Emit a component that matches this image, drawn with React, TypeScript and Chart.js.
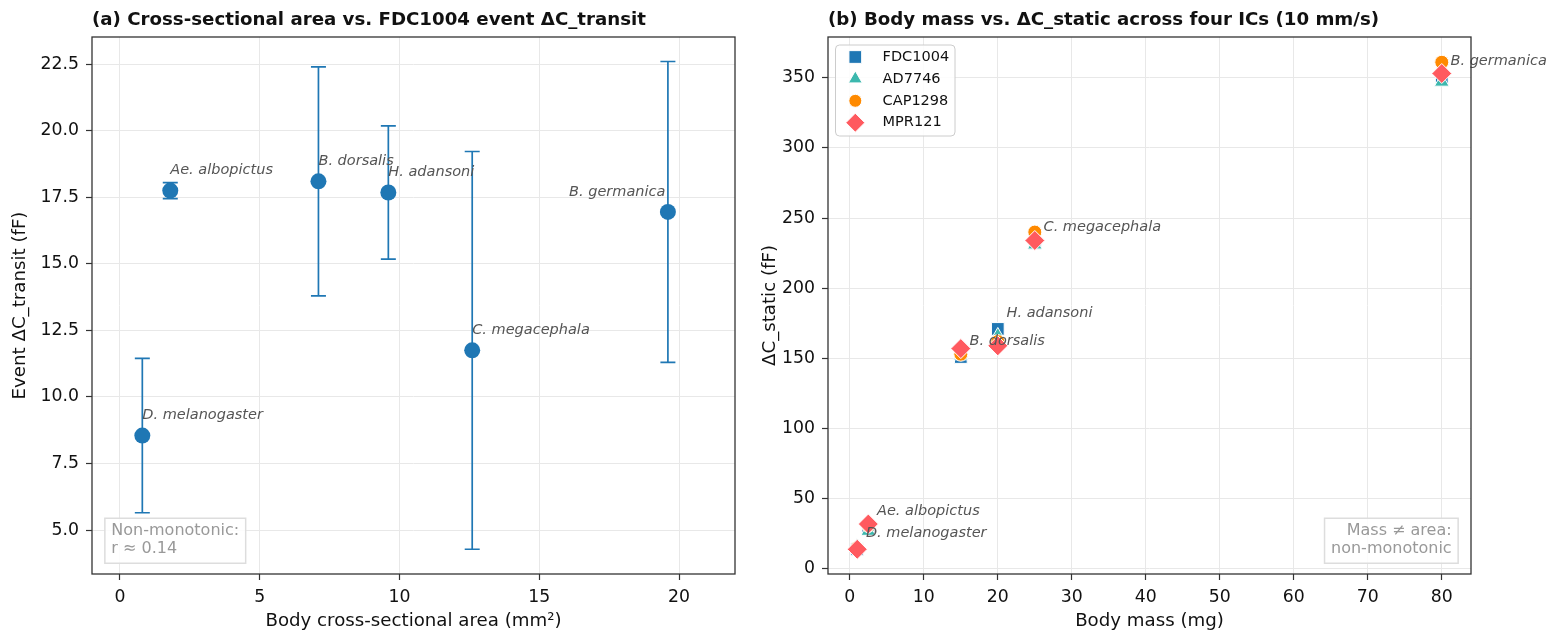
import { useEffect, useRef } from "react"
import { Chart, registerables } from "chart.js"
import { drawPoint } from "chart.js/helpers"

Chart.register(...registerables)

const species = [
  "D. melanogaster",
  "Ae. albopictus",
  "B. dorsalis",
  "H. adansoni",
  "C. megacephala",
  "B. germanica",
]

// panel (a): cross-sectional area vs FDC1004 transit signal
const crossArea = [0.8, 1.8, 7.1, 9.6, 12.6, 19.6]
const transitMean = [8.55, 17.75, 18.1, 17.68, 11.75, 16.95]
const transitSd = [2.9, 0.3, 4.3, 2.5, 7.47, 5.65]
const areaTicks = [0, 5, 10, 15, 20]
const transitTicks = [5, 7.5, 10, 12.5, 15, 17.5, 20, 22.5]

// panel (b): body mass vs static signal, four ICs
const bodyMass = [1, 2.5, 15, 20, 25, 80]
const fdc1004 = [14, 30, 151, 171, 232, 350]
const ad7746 = [16, 27, 152, 166, 231, 347]
const cap1298 = [15, 31, 153, 162, 240, 361]
const mpr121 = [14, 32, 157, 159, 234, 353]
const massTicks = [0, 10, 20, 30, 40, 50, 60, 70, 80]
const staticTicks = [0, 50, 100, 150, 200, 250, 300, 350]

const FONT = "'DejaVu Sans', sans-serif"
const AXIS = "#333333"
const GRID = "#e8e8e8"
const BLUE = "#1f77b4"
const TICK_SIZE = 17.3
const LABEL_SIZE = 18.2

const icSeries = [
  { name: "FDC1004", values: fdc1004, color: "#1f77b4", style: "rect", radius: 9, legendRadius: 9 },
  { name: "AD7746", values: ad7746, color: "#3cb8ae", style: "triangle", radius: 8.5, legendRadius: 8 },
  { name: "CAP1298", values: cap1298, color: "#ff8a00", style: "circle", radius: 7, legendRadius: 6.5 },
  { name: "MPR121", values: mpr121, color: "#ff5a5f", style: "rectRot", radius: 10, legendRadius: 9.5 },
]

function gridOpts() {
  return { color: GRID, lineWidth: 1, drawTicks: true, tickLength: 6, tickColor: AXIS, tickWidth: 1.2 }
}

function setTicks(values: number[]) {
  return (scale: any) => {
    scale.ticks = values.map((v) => ({ value: v }))
  }
}

function drawFrame(chart: any, title: string) {
  const { ctx, chartArea: a } = chart
  ctx.save()
  ctx.strokeStyle = AXIS
  ctx.lineWidth = 1.3
  ctx.strokeRect(a.left, a.top, a.right - a.left, a.bottom - a.top)
  ctx.fillStyle = "#111"
  ctx.font = `bold 18.2px ${FONT}`
  ctx.textBaseline = "middle"
  ctx.textAlign = "left"
  ctx.fillText(title, a.left, 20)
  ctx.restore()
}

function drawNote(chart: any, lines: string[], align: "left" | "right") {
  const { ctx, chartArea: a } = chart
  const w = a.right - a.left
  const h = a.bottom - a.top
  ctx.save()
  ctx.font = `16px ${FONT}`
  const textW = Math.max(...lines.map((l) => ctx.measureText(l).width))
  const pad = 6.5
  const boxW = textW + pad * 2
  const boxH = 45
  const bottom = a.bottom - 0.02 * h
  const left = align === "left" ? a.left + 0.02 * w : a.right - 0.02 * w - boxW
  ctx.fillStyle = "rgba(255,255,255,0.85)"
  ctx.strokeStyle = "#dddddd"
  ctx.lineWidth = 1.5
  ctx.fillRect(left, bottom - boxH, boxW, boxH)
  ctx.strokeRect(left, bottom - boxH, boxW, boxH)
  ctx.fillStyle = "#999999"
  ctx.textBaseline = "middle"
  ctx.textAlign = align
  const tx = align === "left" ? left + pad : left + boxW - pad
  lines.forEach((l, i) => ctx.fillText(l, tx, bottom - boxH + 12.7 + i * 18))
  ctx.restore()
}

function scaleText(text: string, pad: { top: number; bottom: number }) {
  return { display: true, text, color: "#111", font: { family: FONT, size: LABEL_SIZE }, padding: pad }
}

function AreaPanel() {
  const ref = useRef<HTMLCanvasElement>(null)

  useEffect(() => {
    if (!ref.current) return

    const annotate = {
      id: "annotate",
      beforeDatasetsDraw(chart: any) {
        const { ctx, scales } = chart
        ctx.save()
        ctx.strokeStyle = BLUE
        ctx.lineWidth = 1.7
        crossArea.forEach((a, i) => {
          const px = scales.x.getPixelForValue(a)
          const top = scales.y.getPixelForValue(transitMean[i] + transitSd[i])
          const bot = scales.y.getPixelForValue(transitMean[i] - transitSd[i])
          ctx.beginPath()
          ctx.moveTo(px, top)
          ctx.lineTo(px, bot)
          ctx.moveTo(px - 7.5, top)
          ctx.lineTo(px + 7.5, top)
          ctx.moveTo(px - 7.5, bot)
          ctx.lineTo(px + 7.5, bot)
          ctx.stroke()
        })
        ctx.restore()
      },
      afterDatasetsDraw(chart: any) {
        const { ctx, scales } = chart
        ctx.save()
        ctx.font = `italic 14.5px ${FONT}`
        ctx.fillStyle = "#555555"
        ctx.textBaseline = "middle"
        species.forEach((name, i) => {
          const px = scales.x.getPixelForValue(crossArea[i])
          const py = scales.y.getPixelForValue(transitMean[i])
          const right = name === "B. germanica"
          ctx.textAlign = right ? "right" : "left"
          ctx.fillText(name, right ? px - 2.5 : px, py - 20)
        })
        ctx.restore()
        drawNote(chart, ["Non-monotonic:", "r ≈ 0.14"], "left")
        drawFrame(chart, "(a) Cross-sectional area vs. FDC1004 event ΔC_transit")
      },
    }

    const chart = new Chart(ref.current, {
      type: "scatter",
      data: {
        datasets: [
          {
            data: crossArea.map((x, i) => ({ x, y: transitMean[i] })),
            backgroundColor: BLUE,
            borderColor: BLUE,
            borderWidth: 0,
            pointRadius: 8,
            pointHoverRadius: 8,
          },
        ],
      },
      options: {
        animation: false,
        responsive: false,
        events: [],
        layout: { padding: { top: 37, right: 15, left: 0, bottom: 0 } },
        plugins: { legend: { display: false }, tooltip: { enabled: false } },
        scales: {
          x: {
            type: "linear",
            min: -1,
            max: 22,
            afterBuildTicks: setTicks(areaTicks),
            afterFit: (s: any) => {
              s.height = 66
            },
            grid: gridOpts(),
            border: { display: false },
            ticks: { color: "#111", font: { family: FONT, size: TICK_SIZE }, padding: 7 },
            title: scaleText("Body cross-sectional area (mm²)", { top: 0, bottom: 8 }),
          },
          y: {
            type: "linear",
            min: 3.35,
            max: 23.52,
            afterBuildTicks: setTicks(transitTicks),
            afterFit: (s: any) => {
              s.width = 92
            },
            grid: gridOpts(),
            border: { display: false },
            ticks: {
              color: "#111",
              font: { family: FONT, size: TICK_SIZE },
              padding: 7,
              callback: (v: any) => Number(v).toFixed(1),
            },
            title: scaleText("Event ΔC_transit (fF)", { top: 9, bottom: 0 }),
          },
        },
      },
      plugins: [annotate],
    } as any)

    return () => chart.destroy()
  }, [])

  return (
    <canvas
      ref={ref}
      width={750}
      height={640}
      style={{ position: "absolute", left: 0, top: 0, width: 750, height: 640 }}
    />
  )
}

function MassPanel() {
  const ref = useRef<HTMLCanvasElement>(null)

  useEffect(() => {
    if (!ref.current) return

    const annotate = {
      id: "annotate",
      afterDatasetsDraw(chart: any) {
        const { ctx, scales, chartArea: a } = chart
        ctx.save()
        ctx.font = `italic 14.5px ${FONT}`
        ctx.fillStyle = "#555555"
        ctx.textBaseline = "middle"
        ctx.textAlign = "left"
        species.forEach((name, i) => {
          const px = scales.x.getPixelForValue(bodyMass[i])
          const py = scales.y.getPixelForValue(fdc1004[i])
          ctx.fillText(name, px + 8.7, py - 16)
        })

        // legend
        const bx = a.left + 7.5
        const by = a.top + 8
        ctx.fillStyle = "rgba(255,255,255,0.85)"
        ctx.strokeStyle = "#cccccc"
        ctx.lineWidth = 1
        ctx.beginPath()
        ctx.roundRect(bx, by, 119.5, 91, 4)
        ctx.fill()
        ctx.stroke()
        ctx.font = `14.5px ${FONT}`
        icSeries.forEach((s, i) => {
          const ry = by + 12 + i * 21.9
          ctx.fillStyle = s.color
          ctx.strokeStyle = "#ffffff"
          ctx.lineWidth = 1
          drawPoint(ctx, { pointStyle: s.style, radius: s.legendRadius, rotation: 0, borderWidth: 1 } as any, a.left + 27.3, ry)
          ctx.fillStyle = "#111"
          ctx.fillText(s.name, a.left + 54.6, ry)
        })
        ctx.restore()
        drawNote(chart, ["Mass ≠ area:", "non-monotonic"], "right")
        drawFrame(chart, "(b) Body mass vs. ΔC_static across four ICs (10 mm/s)")
      },
    }

    const chart = new Chart(ref.current, {
      type: "scatter",
      data: {
        // later ICs are drawn on top: lower order = drawn last
        datasets: icSeries.map((s, k) => ({
          label: s.name,
          data: bodyMass.map((x, i) => ({ x, y: s.values[i] })),
          backgroundColor: s.color,
          borderColor: "#ffffff",
          borderWidth: 1,
          pointStyle: s.style,
          pointRadius: s.radius,
          pointHoverRadius: s.radius,
          order: icSeries.length - k,
        })),
      },
      options: {
        animation: false,
        responsive: false,
        events: [],
        layout: { padding: { top: 37, right: 86, left: 0, bottom: 0 } },
        plugins: { legend: { display: false }, tooltip: { enabled: false } },
        scales: {
          x: {
            type: "linear",
            min: -2.95,
            max: 83.95,
            afterBuildTicks: setTicks(massTicks),
            afterFit: (s: any) => {
              s.height = 66
            },
            grid: gridOpts(),
            border: { display: false },
            ticks: { color: "#111", font: { family: FONT, size: TICK_SIZE }, padding: 7 },
            title: scaleText("Body mass (mg)", { top: 0, bottom: 8 }),
          },
          y: {
            type: "linear",
            min: -3.6,
            max: 379,
            afterBuildTicks: setTicks(staticTicks),
            afterFit: (s: any) => {
              s.width = 78
            },
            grid: gridOpts(),
            border: { display: false },
            ticks: { color: "#111", font: { family: FONT, size: TICK_SIZE }, padding: 7 },
            title: scaleText("ΔC_static (fF)", { top: 9, bottom: 0 }),
          },
        },
      },
      plugins: [annotate],
    } as any)

    return () => chart.destroy()
  }, [])

  return (
    <canvas
      ref={ref}
      width={807}
      height={640}
      style={{ position: "absolute", left: 750, top: 0, width: 807, height: 640 }}
    />
  )
}

export default function App() {
  return (
    <div
      style={{
        position: "absolute",
        left: 0,
        top: 0,
        width: 1557,
        height: 640,
        background: "#ffffff",
        overflow: "hidden",
      }}
    >
      <AreaPanel />
      <MassPanel />
    </div>
  )
}
